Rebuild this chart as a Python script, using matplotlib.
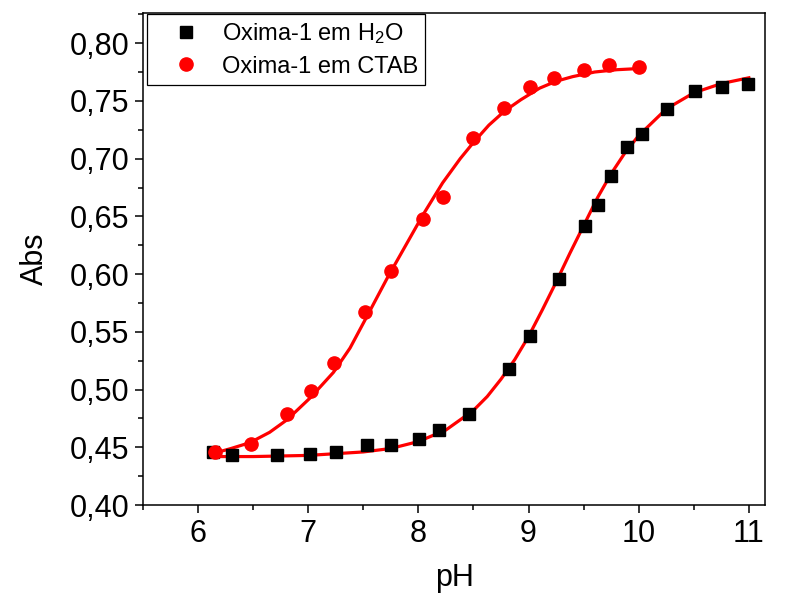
import matplotlib
matplotlib.use('Agg')

from matplotlib import pyplot as plt
from matplotlib.ticker import MultipleLocator, FuncFormatter

plt.rcParams['font.family'] = ['Liberation Sans', 'DejaVu Sans']
plt.rcParams['mathtext.fontset'] = 'custom'
plt.rcParams['mathtext.rm'] = 'Liberation Sans'
plt.rcParams['mathtext.it'] = 'Liberation Sans'

# Oxima-1 em H2O (pontos)
ph_h2o = [6.14, 6.31, 6.72, 7.02, 7.25, 7.53, 7.75, 8.01, 8.19, 8.46, 8.82,
          9.01, 9.28, 9.51, 9.63, 9.75, 9.89, 10.03, 10.26, 10.51, 10.76, 10.99]
abs_h2o = [0.446, 0.443, 0.443, 0.444, 0.446, 0.452, 0.452, 0.457, 0.465, 0.479, 0.518,
           0.546, 0.596, 0.642, 0.660, 0.685, 0.710, 0.721, 0.743, 0.759, 0.762, 0.765]

# Oxima-1 em CTAB (pontos)
ph_ctab = [6.15, 6.48, 6.81, 7.03, 7.23, 7.52, 7.75, 8.04, 8.22, 8.50,
           8.78, 9.01, 9.23, 9.50, 9.73, 10.0]
abs_ctab = [0.446, 0.453, 0.479, 0.499, 0.523, 0.567, 0.603, 0.648, 0.667, 0.718,
            0.744, 0.762, 0.770, 0.777, 0.781, 0.779]

# Curvas de ajuste
fit_ph_h2o = [6.15, 6.5, 7.0, 7.5, 7.75, 8.0, 8.25, 8.5, 8.625, 8.75, 8.875, 9.0,
              9.125, 9.25, 9.375, 9.5, 9.625, 9.75, 9.875, 10.0, 10.25, 10.5, 10.75, 11.0]
fit_abs_h2o = [0.442, 0.442, 0.443, 0.446, 0.449, 0.455, 0.465, 0.482, 0.494, 0.509, 0.526, 0.546,
               0.569, 0.593, 0.618, 0.642, 0.666, 0.687, 0.705, 0.720, 0.743, 0.757, 0.765, 0.770]

fit_ph_ctab = [6.15, 6.3, 6.47, 6.65, 6.81, 7.02, 7.23, 7.38, 7.52, 7.72, 7.88, 8.04,
               8.22, 8.38, 8.50, 8.64, 8.78, 8.93, 9.1, 9.25, 9.4, 9.6, 9.8, 10.0]
fit_abs_ctab = [0.445, 0.449, 0.454, 0.463, 0.474, 0.493, 0.515, 0.536, 0.561, 0.597, 0.624, 0.651,
                0.679, 0.700, 0.714, 0.729, 0.741, 0.751, 0.761, 0.767, 0.771, 0.775, 0.777, 0.778]

fig = plt.figure(figsize=(7.94, 5.97), dpi=100)
ax = fig.add_axes([0.180, 0.154, 0.784, 0.824])

ax.plot(fit_ph_ctab, fit_abs_ctab, color='red', lw=2.3, zorder=2)
ax.plot(fit_ph_h2o, fit_abs_h2o, color='red', lw=2.3, zorder=2)
ax.plot(ph_h2o, abs_h2o, 's', color='black', ms=8, ls='none', zorder=3,
        label='Oxima-1 em H$_2$O')
ax.plot(ph_ctab, abs_ctab, 'o', color='red', ms=9.5, ls='none', zorder=4,
        label='Oxima-1 em CTAB')

ax.set_xlim(5.5, 11.15)
ax.set_ylim(0.40, 0.826)
ax.xaxis.set_major_locator(MultipleLocator(1))
ax.xaxis.set_minor_locator(MultipleLocator(0.5))
ax.yaxis.set_major_locator(MultipleLocator(0.05))
ax.yaxis.set_minor_locator(MultipleLocator(0.025))
ax.yaxis.set_major_formatter(FuncFormatter(lambda v, p: f'{v:.2f}'.replace('.', ',')))

ax.tick_params(which='both', direction='out', top=False, right=False, width=1.1)
ax.tick_params(which='major', length=6, labelsize=22, pad=4)
ax.tick_params(which='minor', length=3.5)
for s in ax.spines.values():
    s.set_linewidth(1.1)

ax.set_xlabel('pH', fontsize=22, labelpad=10)
ax.set_ylabel('Abs', fontsize=22, labelpad=14)

leg = ax.legend(loc='upper left', bbox_to_anchor=(0.007, 0.998), fontsize=17,
                frameon=True, fancybox=False, edgecolor='black', framealpha=1,
                handletextpad=0.15, borderpad=0.3, labelspacing=0.4,
                handlelength=2.7, borderaxespad=0)
leg.get_frame().set_linewidth(0.9)

plt.savefig('out.png', dpi=100)
